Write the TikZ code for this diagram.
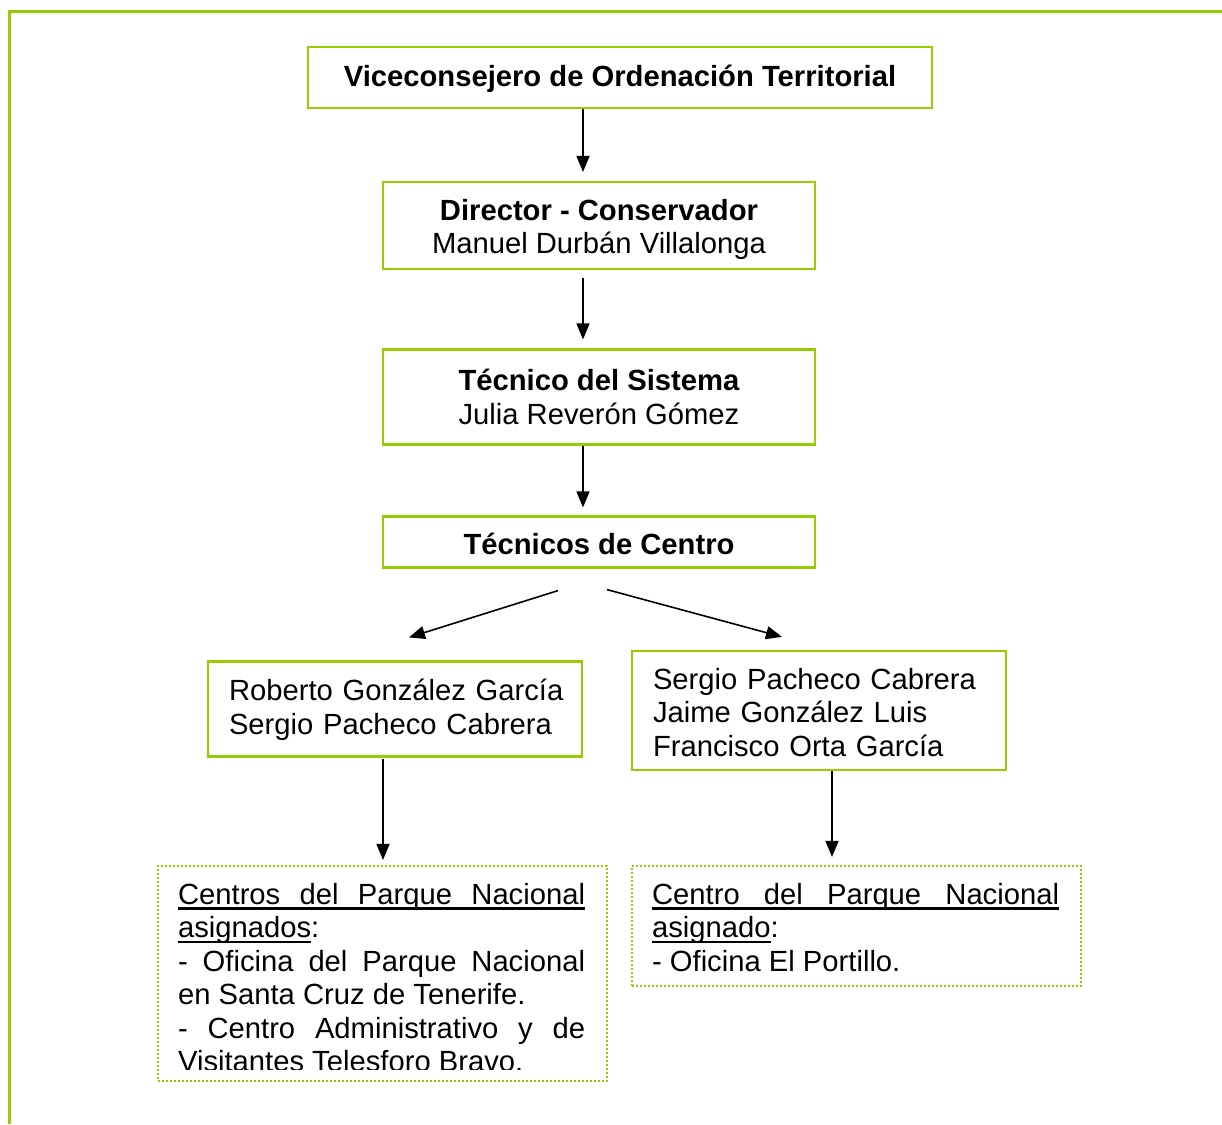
\documentclass[tikz,border=0pt]{standalone}
\usepackage{fontspec}
\setmainfont{Liberation Sans}
\usetikzlibrary{arrows.meta}
\definecolor{lime}{RGB}{153,204,0}
\newcommand\myul[1]{\setbox0\hbox{#1}\rlap{\rule[-5.5pt]{\wd0}{2.6pt}}\box0}
\tikzset{
  box/.style={draw=lime, line width=2.2pt, inner sep=0pt},
  lbl/.style={inner sep=0pt, font=\fontsize{29.2}{33.6}\selectfont},
  dbox/.style={draw=lime, line width=2.2pt, dash pattern=on 2pt off 2pt, inner sep=0pt},
  txt/.style={inner sep=0pt, align=left, anchor=north west, font=\fontsize{29.2}{33.5}\selectfont},
  arr/.style={line width=1.6pt, -{Triangle[length=16pt,width=13pt]}},
  frame/.style={draw=lime, line width=3pt}
}
\begin{document}
\begin{tikzpicture}[x=1pt,y=-1pt]
\useasboundingbox (0,0) rectangle (1222,1124);
\draw[frame] (1222,12) -- (9,12) -- (9,1124);

\node[box, minimum width=624pt, minimum height=61pt] (v) at (620,77.5) {};
\node[box, minimum width=432pt, minimum height=87pt] (d) at (599,225.5) {};
\node[box, minimum width=432pt, minimum height=95pt] (ts) at (599,397) {};
\node[box, minimum width=432pt, minimum height=51pt] (tc) at (599,542) {};
\node[box, minimum width=374pt, minimum height=95pt] (r) at (395,709) {};
\node[box, minimum width=374pt, minimum height=119pt] (s) at (819,710.5) {};

\node[lbl, align=center] (vt) at ([yshift=-1.5pt]v.center) {\textbf{Viceconsejero de Ordenación Territorial}};
\node[lbl, align=center] (dt) at ([yshift=-4pt]d.center) {\textbf{Director - Conservador}\\Manuel Durbán Villalonga};
\node[lbl, align=center] (tst) at ([yshift=0pt]ts.center) {\textbf{Técnico del Sistema}\\Julia Reverón Gómez};
\node[lbl, align=center] (tct) at ([yshift=-1.5pt]tc.center) {\textbf{Técnicos de Centro}};
\node[lbl, align=left, text width=332pt] (rt) at ([yshift=-1pt]r.center) {\mbox{Roberto González García}\\\mbox{Sergio Pacheco Cabrera}};
\node[lbl, align=left, text width=332pt] (st) at ([yshift=-2pt]s.center) {Sergio Pacheco Cabrera\\Jaime González Luis\\Francisco Orta García};

\node[dbox, minimum width=449pt, minimum height=215pt] (dl) at (382.5,973.5) {};
\node[dbox, minimum width=449pt, minimum height=120pt] (dr) at (856.5,926) {};

\begin{scope}
\clip (dl.north west) rectangle ([yshift=13pt]dl.south east);
\node[txt] (tl) at ([shift={(21,18)}]dl.north west) {%
\myul{\makebox[407pt][s]{Centros del Parque Nacional}}\\
\myul{asignados}:\\
\makebox[407pt][s]{- Oficina del Parque Nacional}\\
en Santa Cruz de Tenerife.\\
\makebox[407pt][s]{- Centro Administrativo y de}\\
Visitantes Telesforo Bravo.};
\end{scope}
\node[txt] (tr) at ([shift={(21,18)}]dr.north west) {%
\myul{\makebox[407pt][s]{Centro del Parque Nacional}}\\
\myul{asignado}:\\
- Oficina El Portillo.};

\coordinate (ax) at (583,0);
\draw[arr] (v.south -| ax) -- ([yshift=9pt]d.north -| ax);
\draw[arr] ([yshift=-8pt]d.south -| ax) -- ([yshift=9pt]ts.north -| ax);
\draw[arr] (ts.south -| ax) -- ([yshift=8pt]tc.north -| ax);
\draw[arr] ([shift={(-41,22)}]tc.south) -- ([shift={(14,-23)}]r.north);
\draw[arr] ([shift={(8,21)}]tc.south) -- ([shift={(-37,-13)}]s.north);
\draw[arr] ([shift={(-12,1)}]r.south) -- ([shift={(0.5,-5)}]dl.north);
\draw[arr] ([shift={(13,0)}]s.south) -- ([shift={(-24.5,-8)}]dr.north);
\end{tikzpicture}
\end{document}
